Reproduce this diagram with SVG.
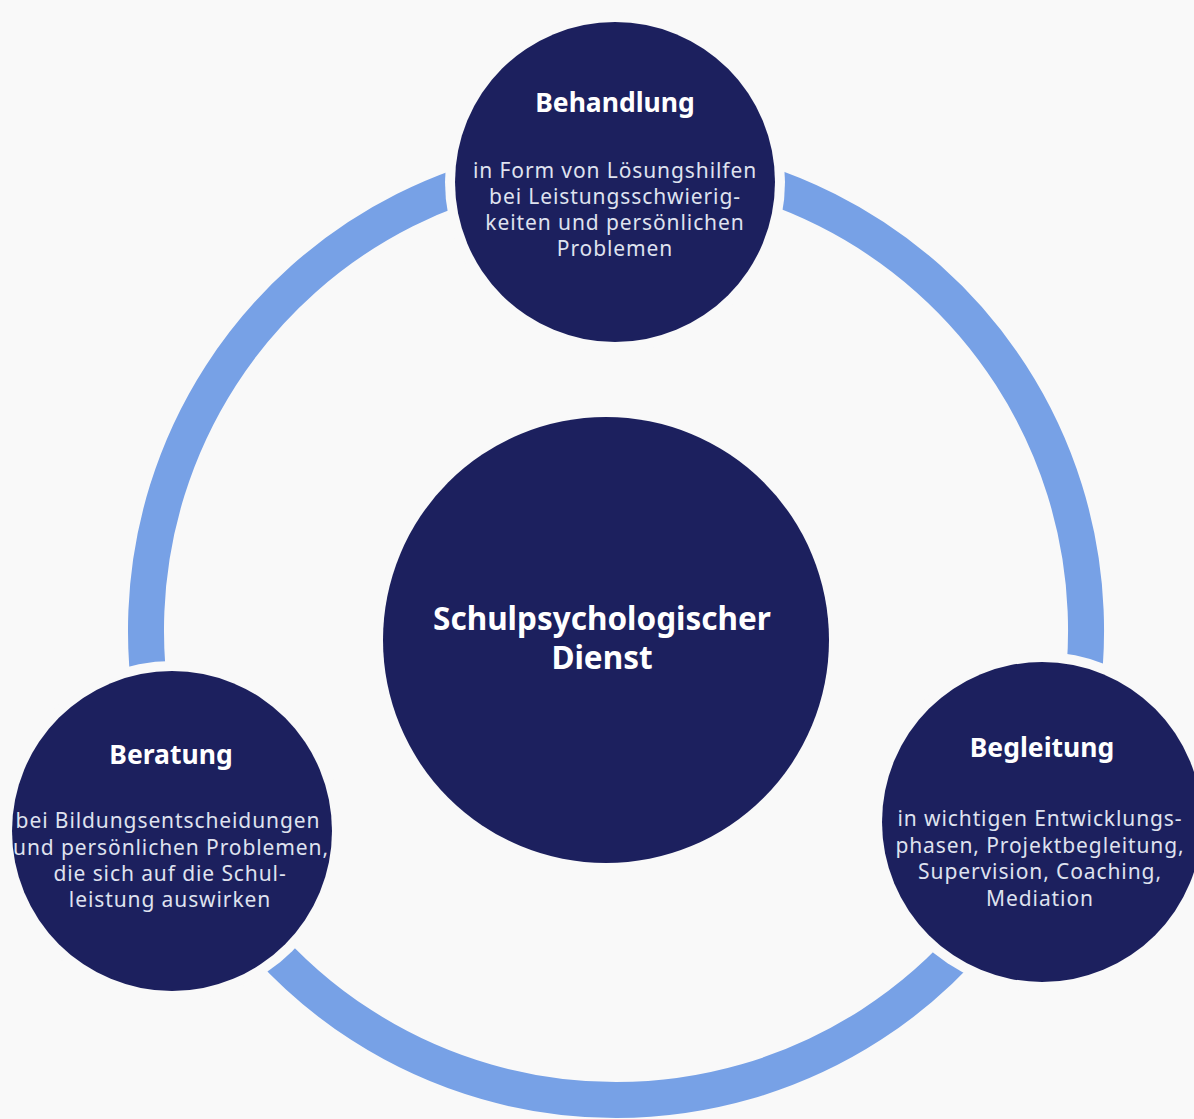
<svg xmlns="http://www.w3.org/2000/svg" width="1194" height="1119" viewBox="0 0 1194 1119">
<style>
.bg{fill:#f9f9f9}
.halo{fill:#f9f9f9}
.node{fill:#1c205e}
.ring{fill:none;stroke:#77a1e6;stroke-width:36;stroke-linecap:butt}
.title{font-family:"Noto Sans","DejaVu Sans",sans-serif;font-weight:bold;fill:#ffffff;text-anchor:middle}
.body{font-family:"Noto Sans","DejaVu Sans",sans-serif;font-size:21px;letter-spacing:0.9px;fill:#dfe2ef;text-anchor:middle}
</style>
<rect class="bg" x="0" y="0" width="1194" height="1119"/>
<g id="connectors">
<path class="ring" d="M 616 160 A 470 470 0 0 1 1044.4 823.4"/>
<path class="ring" d="M 1044.4 823.4 A 470 470 0 0 1 188 824.2"/>
<path class="ring" d="M 188 824.2 A 470 470 0 0 1 616 160"/>
</g>
<g id="node-behandlung">
<circle class="halo" cx="615" cy="182" r="170"/>
<circle class="node" cx="615" cy="182" r="160"/>
<text class="title" x="615" y="112" font-size="26.5">Behandlung</text>
<text class="body" x="615" y="178">in Form von Lösungshilfen</text>
<text class="body" x="615" y="204">bei Leistungsschwierig-</text>
<text class="body" x="615" y="230">keiten und persönlichen</text>
<text class="body" x="615" y="256">Problemen</text>
</g>
<g id="node-center">
<circle class="node" cx="606" cy="640" r="223"/>
<text class="title" x="602" y="630" font-size="31.5">Schulpsychologischer</text>
<text class="title" x="602" y="669" font-size="31.5">Dienst</text>
</g>
<g id="node-beratung">
<circle class="halo" cx="172" cy="831" r="170"/>
<circle class="node" cx="172" cy="831" r="160"/>
<text class="title" x="171" y="764" font-size="26.5">Beratung</text>
<text class="body" x="168" y="828">bei Bildungsentscheidungen</text>
<text class="body" x="171" y="855">und persönlichen Problemen,</text>
<text class="body" x="170" y="881">die sich auf die Schul-</text>
<text class="body" x="170" y="907">leistung auswirken</text>
</g>
<g id="node-begleitung">
<circle class="halo" cx="1042" cy="822" r="170"/>
<circle class="node" cx="1042" cy="822" r="160"/>
<text class="title" x="1042" y="757" font-size="26.5">Begleitung</text>
<text class="body" x="1040" y="826">in wichtigen Entwicklungs-</text>
<text class="body" x="1040" y="853">phasen, Projektbegleitung,</text>
<text class="body" x="1040" y="879">Supervision, Coaching,</text>
<text class="body" x="1040" y="906">Mediation</text>
</g>
</svg>
